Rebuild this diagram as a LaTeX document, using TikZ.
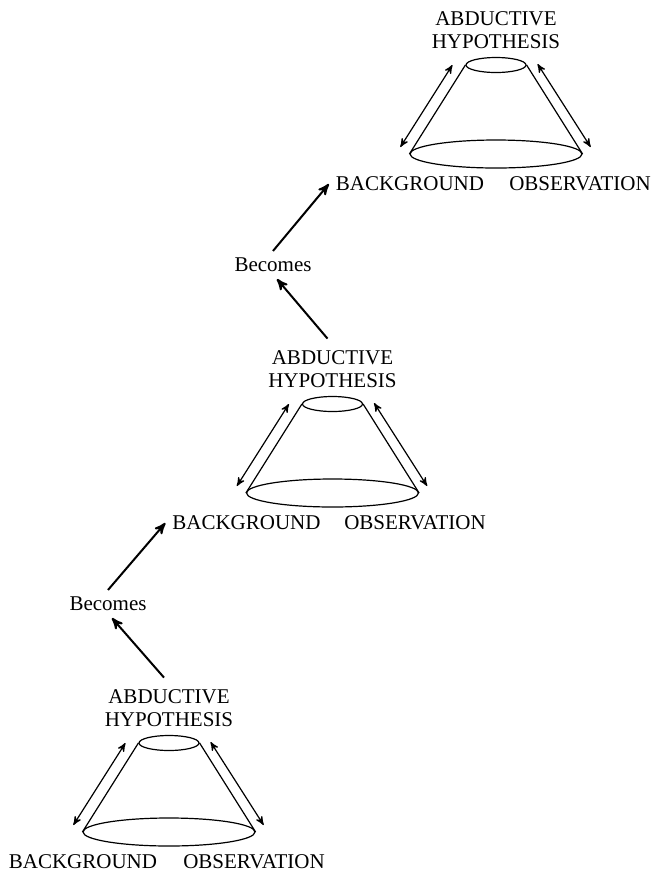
\documentclass[tikz,border=0pt]{standalone}
\usepackage{fontspec}
\setmainfont{Liberation Serif}
\usetikzlibrary{arrows,shapes.geometric}

\begin{document}
\begin{tikzpicture}[x=0.5pt,y=-0.5pt,>=stealth',
  text node/.style={font=\fontsize{10.5}{11.3}\selectfont,align=center},
  top disc/.style={ellipse,draw,line width=0.6pt,inner sep=0pt,minimum width=30pt,minimum height=7.5pt},
  base disc/.style={ellipse,draw,line width=0.6pt,inner sep=0pt,minimum width=86pt,minimum height=14pt},
  side/.style={line width=0.6pt},
  link/.style={<->,line width=0.6pt},
  becomes arrow/.style={->,line width=1pt}]

  \useasboundingbox (0,0) rectangle (654,875);

  % bottom cone
  \node[top disc] (top1) at (169,743) {};
  \node[base disc] (base1) at (169,832) {};
  \node[text node] (hyp1) at (169,708) {ABDUCTIVE\\HYPOTHESIS};
  \node[text node] (bg1) at (83,862) {BACKGROUND};
  \node[text node] (obs1) at (254,862) {OBSERVATION};
  \node[text node] (bec1) at (108,604) {Becomes};

  % middle cone
  \node[top disc] (top2) at (332.5,404) {};
  \node[base disc] (base2) at (332.5,493) {};
  \node[text node] (hyp2) at (332.5,369) {ABDUCTIVE\\HYPOTHESIS};
  \node[text node] (bg2) at (246.5,523) {BACKGROUND};
  \node[text node] (obs2) at (415,523) {OBSERVATION};
  \node[text node] (bec2) at (273,265) {Becomes};

  % top cone
  \node[top disc] (top3) at (496,65) {};
  \node[base disc] (base3) at (496,154) {};
  \node[text node] (hyp3) at (496,30) {ABDUCTIVE\\HYPOTHESIS};
  \node[text node] (bg3) at (410,184) {BACKGROUND};
  \node[text node] (obs3) at (580,184) {OBSERVATION};

  \draw[side] (top1.west) -- (base1.west);
  \draw[side] (top1.east) -- (base1.east);
  \draw[side] (top2.west) -- (base2.west);
  \draw[side] (top2.east) -- (base2.east);
  \draw[side] (top3.west) -- (base3.west);
  \draw[side] (top3.east) -- (base3.east);

  \draw[link] ([xshift=-6.5pt]top1.west) -- ([shift={(-4.5pt,3.5pt)}]base1.west);
  \draw[link] ([shift={(5.5pt,0.5pt)}]top1.east) -- ([shift={(4pt,3.5pt)}]base1.east);
  \draw[link] ([xshift=-6.5pt]top2.west) -- ([shift={(-4.5pt,3.5pt)}]base2.west);
  \draw[link] ([shift={(5.5pt,0.5pt)}]top2.east) -- ([shift={(4pt,3.5pt)}]base2.east);
  \draw[link] ([xshift=-6.5pt]top3.west) -- ([shift={(-4.5pt,3.5pt)}]base3.west);
  \draw[link] ([shift={(5.5pt,0.5pt)}]top3.east) -- ([shift={(4pt,3.5pt)}]base3.east);

  \draw[becomes arrow] ([xshift=-2.5pt,yshift=2.5pt]hyp1.north) -- ([xshift=2pt]bec1.south);
  \draw[becomes arrow] (bec1.north) -- (bg2.west);
  \draw[becomes arrow] ([xshift=-2.5pt,yshift=2.5pt]hyp2.north) -- ([xshift=2pt]bec2.south);
  \draw[becomes arrow] (bec2.north) -- (bg3.west);

\end{tikzpicture}
\end{document}
